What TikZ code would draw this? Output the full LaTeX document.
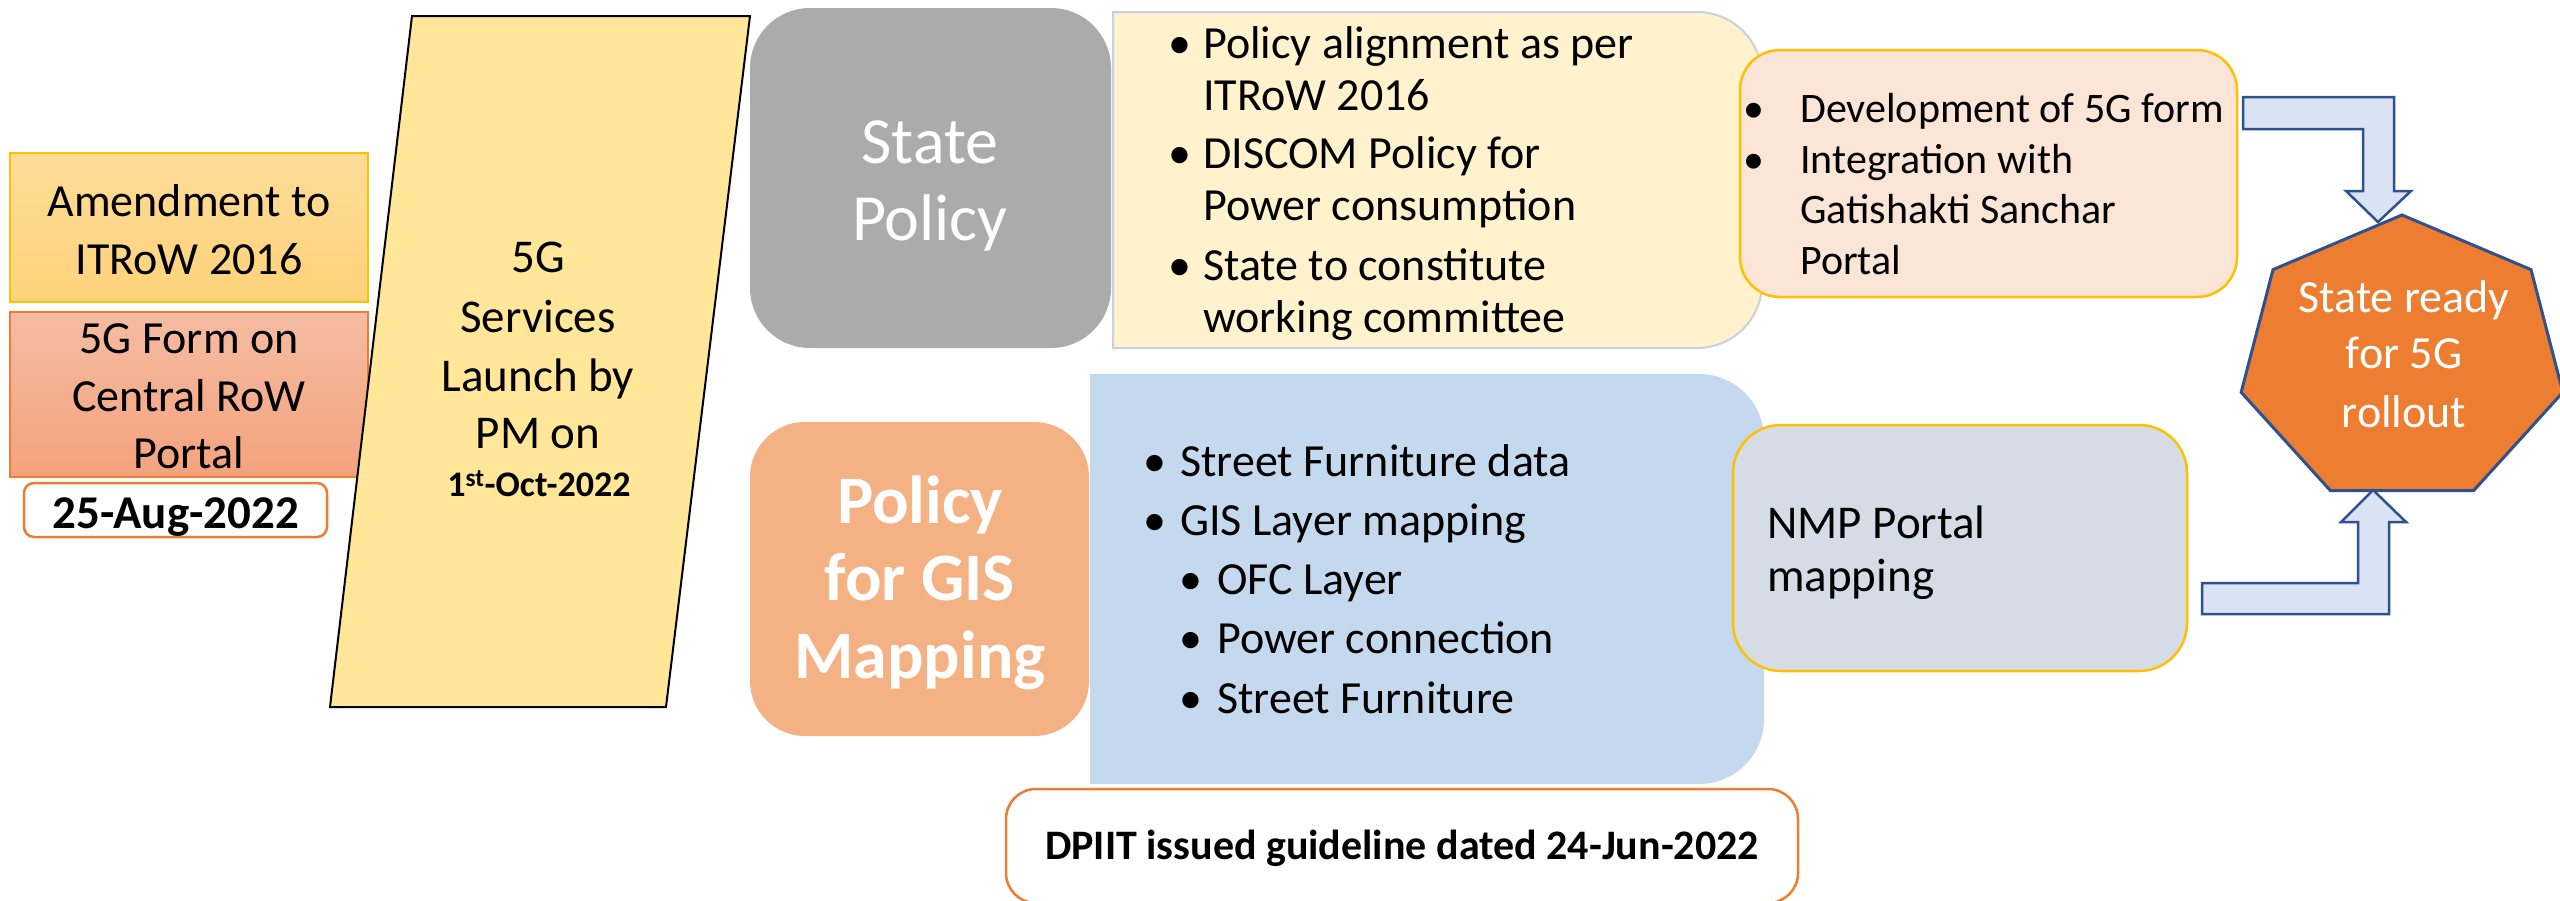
\documentclass[tikz,border=0pt]{standalone}
\usepackage{fontspec}
\setmainfont{Carlito}

\definecolor{amendtop}{RGB}{254,220,152}
\definecolor{amendbot}{RGB}{254,210,122}
\definecolor{goldline}{RGB}{255,192,0}
\definecolor{formtop}{RGB}{245,188,162}
\definecolor{formbot}{RGB}{244,162,125}
\definecolor{orangeline}{RGB}{237,125,49}
\definecolor{launchfill}{RGB}{255,230,153}
\definecolor{stategray}{RGB}{171,171,171}
\definecolor{creamfill}{RGB}{255,242,204}
\definecolor{creamline}{RGB}{200,208,230}
\definecolor{gisfill}{RGB}{244,177,131}
\definecolor{bluefill}{RGB}{196,217,238}
\definecolor{pinkfill}{RGB}{251,229,214}
\definecolor{nmpfill}{RGB}{214,220,229}
\definecolor{readyfill}{RGB}{237,125,49}
\definecolor{navyline}{RGB}{47,82,143}
\definecolor{arrowfill}{RGB}{218,227,243}

\tikzset{
	box/.style={line width=2pt, inner sep=0pt},
	txt/.style={inner sep=0pt, anchor=base, font=\fontsize{46}{55}\selectfont},
	listtxt/.style={inner sep=0pt, anchor=base west, font=\fontsize{46}{55}\selectfont},
	blockarrow/.style={draw=navyline, fill=arrowfill, line width=2.5pt, line join=miter}
}

\begin{document}
\begin{tikzpicture}[x=1pt, y=-1pt]
	% Parameters
	\def\hx{2402}   % heptagon centre x
	\def\hy{360}    % heptagon centre y
	\def\hrx{165}   % heptagon x radius
	\def\hry{145}   % heptagon y radius
	
	\useasboundingbox (0,0) rectangle (2560,900);
	\fill[white] (0,0) rectangle (2560,900);
	
	% Left column
	\node[box, draw=goldline, top color=amendtop, bottom color=amendbot, minimum width=358pt, minimum height=149pt] (amend) at (189,227.5) {};
	\foreach \yy/\txt [count=\i] in {216/Amendment to, 274/ITRoW 2016}
		\node[txt] (amend\i) at (189,\yy) {\txt};
	\node[box, draw=orangeline, top color=formtop, bottom color=formbot, minimum width=358pt, minimum height=165pt] (rowform) at (189,394.5) {};
	\foreach \yy/\txt [count=\i] in {353/5G Form on, 411/Central RoW, 468/Portal}
		\node[txt] (rowform\i) at (189,\yy) {\txt};
	\node[box, draw=orangeline, line width=2.5pt, fill=white, rounded corners=10pt, minimum width=303pt, minimum height=54pt] (augdate) at (175.5,510) {};
	\node[txt, font=\fontsize{47}{56}\selectfont\bfseries] (augtext) at (176,528) {25-Aug-2022};
	
	% Launch parallelogram
	\draw[line width=2pt, fill=launchfill] (412,16) -- (750,16) -- (666,707) -- (330,707) -- cycle;
	\foreach \yy/\txt [count=\i] in {272/5G, 332/Services, 391/Launch by, 448/PM on}
		\node[txt, font=\fontsize{47}{56}\selectfont] (launch\i) at (538,\yy) {\txt};
	\node[txt, font=\fontsize{36}{43}\selectfont\bfseries] (launchdate) at (539,496) {1\textsuperscript{st}-Oct-2022};
	
	% State policy
	\node[box, fill=stategray, rounded corners=60pt, minimum width=361pt, minimum height=340pt] (state) at (930.5,178) {};
	\foreach \yy/\txt [count=\i] in {163/State, 240/Policy}
		\node[txt, white, font=\fontsize{66}{77}\selectfont] (state\i) at (930,\yy) {\txt};
	
	% Policy points (right corners rounded)
	\path[fill=creamfill, draw=creamline, line width=2pt] (1113,12) -- (1697,12) .. controls (1733,12) and (1762,41) .. (1762,77) -- (1762,283) .. controls (1762,319) and (1733,348) .. (1697,348) -- (1113,348) -- cycle;
	\foreach \yy/\xd/\txt [count=\i] in {58/1180/Policy alignment as per, 110/0/ITRoW 2016, 168/1180/DISCOM Policy for, 220/0/Power consumption, 280/1180/State to constitute, 332/0/working committee}{
		\ifnum\xd>0 \node[txt] (poldot\i) at (\xd,\yy) {\textbullet}; \fi
		\node[listtxt] (politem\i) at (1203,\yy) {\txt};
	}
	
	% GIS policy
	\node[box, fill=gisfill, rounded corners=55pt, minimum width=339pt, minimum height=314pt] (gis) at (919.5,579) {};
	\foreach \yy/\txt [count=\i] in {523/Policy, 600/for GIS, 678/Mapping}
		\node[txt, white, font=\fontsize{68}{77}\selectfont\bfseries] (gis\i) at (920,\yy) {\txt};
	
	% GIS points (right corners rounded)
	\path[fill=bluefill] (1090,374) -- (1699,374) .. controls (1735,374) and (1764,403) .. (1764,439) -- (1764,719) .. controls (1764,755) and (1735,784) .. (1699,784) -- (1090,784) -- cycle;
	\foreach \yy/\xd/\xt/\txt [count=\i] in {476/1155/1180/Street Furniture data, 535/1155/1180/GIS Layer mapping, 594/1191/1217/OFC Layer, 653/1191/1217/Power connection, 713/1191/1217/Street Furniture}{
		\node[txt] (gisdot\i) at (\xd,\yy) {\textbullet};
		\node[listtxt] (gisitem\i) at (\xt,\yy) {\txt};
	}
	
	% 5G form development
	\node[box, draw=goldline, line width=2.5pt, fill=pinkfill, rounded corners=40pt, minimum width=497pt, minimum height=247pt] (devform) at (1988.5,173.5) {};
	\foreach \yy/\xd/\txt [count=\i] in {122/1754/Development of 5G form, 173/1754/Integration with, 223/0/Gatishakti Sanchar, 274/0/Portal}{
		\ifnum\xd>0 \node[txt, font=\fontsize{42}{50}\selectfont] (devdot\i) at (\xd,\yy) {\textbullet}; \fi
		\node[listtxt, font=\fontsize{42}{50}\selectfont] (devitem\i) at (1800,\yy) {\txt};
	}
	
	% NMP portal
	\node[box, draw=goldline, line width=2.5pt, fill=nmpfill, rounded corners=48pt, minimum width=454pt, minimum height=246pt] (nmp) at (1960,548) {};
	\foreach \yy/\txt [count=\i] in {538/NMP Portal, 591/mapping}
		\node[listtxt, font=\fontsize{47}{55}\selectfont] (nmp\i) at (1767,\yy) {\txt};
	
	% Heptagon
	\draw[line width=3pt, draw=navyline, fill=readyfill] ({\hx},{\hy-\hry}) \foreach \k in {1,...,6}{ -- ({\hx+\hrx*cos(90+\k*360/7)},{\hy-\hry*sin(90+\k*360/7)}) } -- cycle;
	\foreach \yy/\txt [count=\i] in {312/State ready, 368/for 5G, 427/rollout}
		\node[txt, white] (ready\i) at (2404,\yy) {\txt};
	
	% Block arrows into the heptagon
	\draw[blockarrow] (2243,97) -- (2394,97) -- (2394,191) -- (2411,191) -- (2378,222) -- (2346,191) -- (2363,191) -- (2363,129) -- (2243,129) -- cycle;
	\draw[blockarrow] (2202,614) -- (2389,614) -- (2389,522) -- (2406,522) -- (2373,490) -- (2341,522) -- (2358,522) -- (2358,583) -- (2202,583) -- cycle;
	
	% DPIIT guideline
	\node[box, draw=orangeline, line width=2.5pt, fill=white, rounded corners=30pt, minimum width=792pt, minimum height=114pt] (dpiit) at (1402,846) {};
	\node[txt, font=\fontsize{42}{50}\selectfont\bfseries] (dpiittext) at (1402,859) {DPIIT issued guideline dated 24-Jun-2022};
	
\end{tikzpicture}
\end{document}
